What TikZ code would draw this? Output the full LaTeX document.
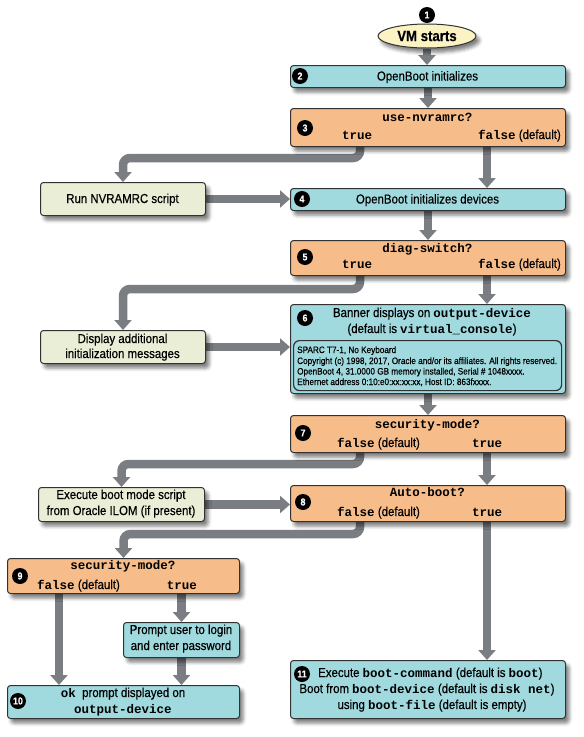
\documentclass[tikz,border=0pt]{standalone}
\usepackage{fontspec}
\setmainfont{Liberation Sans}[FakeStretch=0.88, FakeBold=0.35]
\setmonofont{Liberation Mono}
\usetikzlibrary{arrows.meta,shadows,shadows.blur,calc,shapes.geometric}
\definecolor{bluefill}{RGB}{160,217,222}
\definecolor{orangefill}{RGB}{246,188,138}
\definecolor{beigefill}{RGB}{234,238,214}
\definecolor{ellfill}{RGB}{251,243,195}
\definecolor{arrowgray}{RGB}{122,126,131}
\definecolor{edgegray}{RGB}{50,50,50}
\newcommand\mymono{\ttfamily\bfseries\fontsize{12.5}{14}\selectfont}
\newcommand\mysans{\rmfamily\mdseries\fontsize{13}{15}\selectfont}
\newcommand\mysmall{\rmfamily\mdseries\fontsize{9.3}{10}\selectfont}
\pgfdeclarelayer{bg}
\pgfsetlayers{bg,main}
\tikzset{
  shadowed/.style={blur shadow={shadow xshift=3.5pt,shadow yshift=-4.5pt,shadow blur radius=3.5pt,shadow opacity=50}},
  boxbase/.style={draw=edgegray, line width=1pt, rounded corners=3pt, anchor=north west, inner sep=0pt, shadowed},
  bluebox/.style={boxbase, fill=bluefill},
  orangebox/.style={boxbase, fill=orangefill},
  beigebox/.style={boxbase, fill=beigefill},
  vmell/.style={ellipse, draw=edgegray, line width=1pt, fill=ellfill, minimum width=98pt, minimum height=24pt, inner sep=0pt, shadowed, font=\bfseries\fontsize{15}{17}\selectfont},
  num/.style={circle, fill=black, text=white, font=\bfseries\fontsize{10}{10}\selectfont, inner sep=0pt, minimum size=16pt},
  lbl/.style={inner sep=0pt, font=\mysans},
  mlbl/.style={inner sep=0pt, font=\mymono},
  slbl/.style={inner sep=0pt, font=\mysmall, anchor=base west},
  flow/.style={draw=arrowgray, line width=8.5pt, rounded corners=7pt, -{Triangle[width=17pt,length=10pt]}}
}
\begin{document}
\begin{tikzpicture}[x=1pt,y=-1pt]
\begin{pgfonlayer}{bg}
\node[shadowed, minimum size=2pt, inner sep=0pt] (dummya) at (20,20) {};
\fill[white] (0,0) rectangle (584,737);
\end{pgfonlayer}
\useasboundingbox (0,0) rectangle (584,737);
% hidden primer for the shadow fading (covered by box 6)
\node[shadowed, minimum size=2pt, inner sep=0pt] (dummyb) at (427,360) {};

% 1
\node[vmell] (vm) at (427,36) {VM starts};
\node[num] (n1) at (427,15) {1};

% 2
\node[bluebox, minimum width=275pt, minimum height=22pt] (b2) at (290,65) {};
\node[num] (n2) at (300,76) {2};
\node[lbl, anchor=base] (b2t) at (427.5,80.5) {OpenBoot initializes};

% 3
\node[orangebox, minimum width=275pt, minimum height=38pt] (b3) at (290,108) {};
\node[num] (n3) at (305,128) {3};
\node[mlbl, anchor=base] (b3q) at (427.5,121) {use-nvramrc?};
\node[mlbl, anchor=base] (b3a) at (357,139) {true};
\node[lbl, anchor=base east] (b3b) at (561,139) {{\mymono false} (default)};

% run
\node[beigebox, minimum width=165pt, minimum height=33pt] (run) at (40,182) {};
\node[lbl, anchor=base] (runt) at (122.5,203) {Run NVRAMRC script};

% 4
\node[bluebox, minimum width=275pt, minimum height=22pt] (b4) at (290,188) {};
\node[num] (n4) at (302,199) {4};
\node[lbl, anchor=base] (b4t) at (427.5,203.5) {OpenBoot initializes devices};

% 5
\node[orangebox, minimum width=275pt, minimum height=35pt] (b5) at (290,240) {};
\node[num] (n5) at (305,257) {5};
\node[mlbl, anchor=base] (b5q) at (427.5,252) {diag-switch?};
\node[mlbl, anchor=base] (b5a) at (357,268) {true};
\node[lbl, anchor=base east] (b5b) at (561,268) {{\mymono false} (default)};

% display
\node[beigebox, minimum width=165pt, minimum height=33pt] (disp) at (40,330) {};
\node[lbl, anchor=base] (dispa) at (122.5,343) {Display additional};
\node[lbl, anchor=base] (dispb) at (122.5,358) {initialization messages};

% 6
\node[bluebox, minimum width=275pt, minimum height=89pt] (b6) at (290,304) {};
\node[num] (n6) at (305,318) {6};
\node[lbl, anchor=base] (b6a) at (432,317) {Banner displays on {\mymono output-device}};
\node[lbl, anchor=base] (b6b) at (432,333) {(default is {\mymono virtual\_console})};
\node[draw=edgegray, line width=1.2pt, rounded corners=6pt, anchor=north west, minimum width=268pt, minimum height=50pt, inner sep=0pt] (in6) at (293,340) {};
\node[slbl] (s1) at (297,353) {SPARC T7-1, No Keyboard};
\node[slbl] (s2) at (297,364) {Copyright (c) 1998, 2017, Oracle and/or its affiliates. All rights reserved.};
\node[slbl] (s3) at (297,374.5) {OpenBoot 4, 31.0000 GB memory installed, Serial \# 1048xxxx.};
\node[slbl] (s4) at (297,385) {Ethernet address 0:10:e0:xx:xx:xx, Host ID: 863fxxxx.};

% 7
\node[orangebox, minimum width=275pt, minimum height=37pt] (b7) at (290,415) {};
\node[num] (n7) at (303,433) {7};
\node[mlbl, anchor=base] (b7q) at (427.5,428) {security-mode?};
\node[lbl, anchor=base west] (b7a) at (337,447) {{\mymono false} (default)};
\node[mlbl, anchor=base] (b7b) at (487,447) {true};

% exec
\node[beigebox, minimum width=166pt, minimum height=34pt] (exec) at (38,487) {};
\node[lbl, anchor=base] (execa) at (121,499) {Execute boot mode script};
\node[lbl, anchor=base] (execb) at (121,515) {from Oracle ILOM (if present)};

% 8
\node[orangebox, minimum width=275pt, minimum height=36pt] (b8) at (290,485) {};
\node[num] (n8) at (303,502) {8};
\node[mlbl, anchor=base] (b8q) at (427.5,496) {Auto-boot?};
\node[lbl, anchor=base west] (b8a) at (337,516) {{\mymono false} (default)};
\node[mlbl, anchor=base] (b8b) at (487,516) {true};

% 9
\node[orangebox, minimum width=232pt, minimum height=35pt] (b9) at (7,558) {};
\node[num] (n9) at (20,576) {9};
\node[mlbl, anchor=base] (b9q) at (123,569) {security-mode?};
\node[lbl, anchor=base west] (b9a) at (37,589) {{\mymono false} (default)};
\node[mlbl, anchor=base] (b9b) at (182,589) {true};

% prompt
\node[bluebox, minimum width=116pt, minimum height=35pt] (prompt) at (123,622) {};
\node[lbl, anchor=base] (pra) at (181,634) {Prompt user to login};
\node[lbl, anchor=base] (prb) at (181,650) {and enter password};

% 10
\node[bluebox, minimum width=232pt, minimum height=33pt] (b10) at (7,685) {};
\node[num] (n10) at (18,701) {10};
\node[lbl, anchor=base] (b10a) at (123,697) {{\mymono ok}\ \ prompt displayed on};
\node[mlbl, anchor=base] (b10b) at (123,713) {output-device};

% 11
\node[bluebox, minimum width=275pt, minimum height=58pt] (b11) at (290,660) {};
\node[num] (n11) at (302,674) {11};
\node[lbl, anchor=base west] (b11a) at (318,677) {Execute {\mymono boot-command} (default is {\mymono boot})};
\node[lbl, anchor=base] (b11b) at (427,693) {Boot from {\mymono boot-device} (default is {\mymono disk net})};
\node[lbl, anchor=base] (b11c) at (432,709) {using {\mymono boot-file} (default is empty)};

% branch points
\coordinate (b3l) at ([xshift=70pt]b3.south west);
\coordinate (b3r) at ([xshift=197pt]b3.south west);
\coordinate (b5l) at ([xshift=70pt]b5.south west);
\coordinate (b5r) at ([xshift=197pt]b5.south west);
\coordinate (b7l) at ([xshift=70pt]b7.south west);
\coordinate (b7r) at ([xshift=197pt]b7.south west);
\coordinate (b8l) at ([xshift=70pt]b8.south west);
\coordinate (b8r) at ([xshift=197pt]b8.south west);
\coordinate (b9l) at ([xshift=52pt]b9.south west);

\begin{pgfonlayer}{bg}
\draw[flow] (vm.south) -- (vm.south |- b2.north);
\draw[flow] (b2.south) -- (b3.north);
\draw[flow] (b3l) -- ++(0,11) -| (run.north);
\draw[flow] (b3r) -- (b3r |- b4.north);
\draw[flow] (run.east) -- (run.east -| b4.west);
\draw[flow] (b4.south) -- (b5.north);
\draw[flow] (b5l) -- ++(0,13) -| (disp.north);
\draw[flow] (b5r) -- (b5r |- b6.north);
\draw[flow] (disp.east) -- (disp.east -| b6.west);
\draw[flow] (b6.south) -- (b7.north);
\draw[flow] (b7l) -- ++(0,11) -| (exec.north);
\draw[flow] (b7r) -- (b7r |- b8.north);
\draw[flow] (exec.east) -- (exec.east -| b8.west);
\draw[flow] (b8l) -- ++(0,12) -| (b9.north);
\draw[flow] (b8r) -- (b8r |- b11.north);
\draw[flow] (b9l) -- (b9l |- b10.north);
\draw[flow] (prompt.north |- b9.south) -- (prompt.north);
\draw[flow] (prompt.south) -- (prompt.south |- b10.north);
\end{pgfonlayer}
\end{tikzpicture}
\end{document}
